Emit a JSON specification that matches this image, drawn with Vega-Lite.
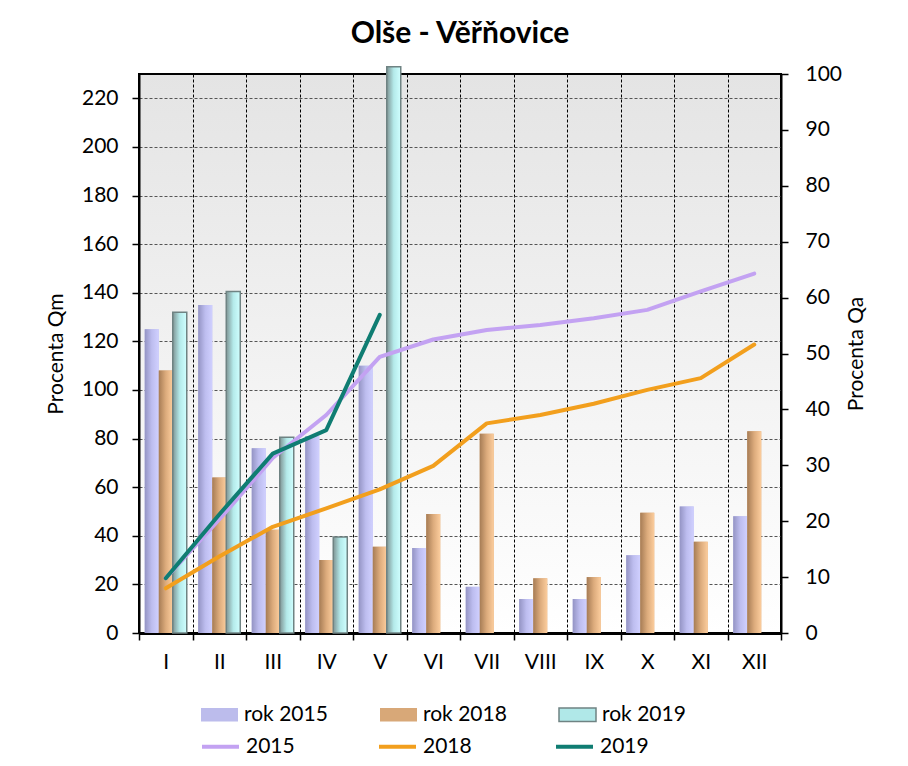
{
  "$schema": "https://vega.github.io/schema/vega-lite/v6.json",
  "width": 642,
  "height": 559,
  "autosize": "none",
  "padding": {"left": 139, "top": 74, "right": 127, "bottom": 133},
  "background": "white",
  "title": {"text": "Olše - Věřňovice", "font": "Lato", "fontSize": 30, "fontWeight": "bold", "color": "black", "anchor": "middle", "frame": "group", "offset": 14},
  "config": {
    "font": "Lato",
    "view": {"stroke": "black", "strokeWidth": 2, "fill": {"gradient": "linear", "x1": 0, "y1": 0, "x2": 0, "y2": 1, "stops": [{"offset": 0, "color": "#e4e4e4"}, {"offset": 1, "color": "#ffffff"}]}},
    "axis": {"labelFont": "Lato", "labelFontSize": 21, "labelColor": "black", "titleFont": "Lato", "titleFontSize": 21, "titleFontWeight": "normal", "titleColor": "black", "domainColor": "black", "tickColor": "black"},
    "legend": {"labelFont": "Lato", "labelFontSize": 21, "labelColor": "black"}
  },
  "datasets": {
    "bars": [
      {"series": "rok 2015", "month": "I", "value": 125},
      {"series": "rok 2015", "month": "II", "value": 135},
      {"series": "rok 2015", "month": "III", "value": 76},
      {"series": "rok 2015", "month": "IV", "value": 81},
      {"series": "rok 2015", "month": "V", "value": 110},
      {"series": "rok 2015", "month": "VI", "value": 35},
      {"series": "rok 2015", "month": "VII", "value": 19},
      {"series": "rok 2015", "month": "VIII", "value": 14},
      {"series": "rok 2015", "month": "IX", "value": 14},
      {"series": "rok 2015", "month": "X", "value": 32},
      {"series": "rok 2015", "month": "XI", "value": 52},
      {"series": "rok 2015", "month": "XII", "value": 48},
      {"series": "rok 2018", "month": "I", "value": 108},
      {"series": "rok 2018", "month": "II", "value": 64},
      {"series": "rok 2018", "month": "III", "value": 42.5},
      {"series": "rok 2018", "month": "IV", "value": 30},
      {"series": "rok 2018", "month": "V", "value": 35.5},
      {"series": "rok 2018", "month": "VI", "value": 49},
      {"series": "rok 2018", "month": "VII", "value": 82},
      {"series": "rok 2018", "month": "VIII", "value": 22.5},
      {"series": "rok 2018", "month": "IX", "value": 23},
      {"series": "rok 2018", "month": "X", "value": 49.5},
      {"series": "rok 2018", "month": "XI", "value": 37.5},
      {"series": "rok 2018", "month": "XII", "value": 83},
      {"series": "rok 2019", "month": "I", "value": 132},
      {"series": "rok 2019", "month": "II", "value": 140.5},
      {"series": "rok 2019", "month": "III", "value": 80.5},
      {"series": "rok 2019", "month": "IV", "value": 39.5},
      {"series": "rok 2019", "month": "V", "value": 233}
    ],
    "lines": [
      {"series": "2015", "month": "I", "value": 9.8},
      {"series": "2015", "month": "II", "value": 20.3},
      {"series": "2015", "month": "III", "value": 31.3},
      {"series": "2015", "month": "IV", "value": 39.0},
      {"series": "2015", "month": "V", "value": 49.4},
      {"series": "2015", "month": "VI", "value": 52.5},
      {"series": "2015", "month": "VII", "value": 54.2},
      {"series": "2015", "month": "VIII", "value": 55.1},
      {"series": "2015", "month": "IX", "value": 56.3},
      {"series": "2015", "month": "X", "value": 57.8},
      {"series": "2015", "month": "XI", "value": 61.1},
      {"series": "2015", "month": "XII", "value": 64.3},
      {"series": "2018", "month": "I", "value": 8.0},
      {"series": "2018", "month": "II", "value": 13.7},
      {"series": "2018", "month": "III", "value": 19.0},
      {"series": "2018", "month": "IV", "value": 22.3},
      {"series": "2018", "month": "V", "value": 25.7},
      {"series": "2018", "month": "VI", "value": 29.9},
      {"series": "2018", "month": "VII", "value": 37.5},
      {"series": "2018", "month": "VIII", "value": 39.0},
      {"series": "2018", "month": "IX", "value": 41.0},
      {"series": "2018", "month": "X", "value": 43.5},
      {"series": "2018", "month": "XI", "value": 45.6},
      {"series": "2018", "month": "XII", "value": 51.6},
      {"series": "2019", "month": "I", "value": 9.8},
      {"series": "2019", "month": "II", "value": 21.2},
      {"series": "2019", "month": "III", "value": 32.1},
      {"series": "2019", "month": "IV", "value": 36.3},
      {"series": "2019", "month": "V", "value": 56.9}
    ]
  },
  "layer": [
    {
      "data": {"name": "bars"},
      "encoding": {
        "x": {"field": "month", "type": "nominal", "sort": ["I","II","III","IV","V","VI","VII","VIII","IX","X","XI","XII"], "scale": {"domain": ["I","II","III","IV","V","VI","VII","VIII","IX","X","XI","XII"], "paddingInner": 0, "paddingOuter": 0}, "axis": {"title": null, "tickBand": "extent", "grid": true, "gridDash": [3, 2], "gridColor": "black", "gridWidth": 1, "labelAngle": 0, "tickSize": 7, "tickWidth": 1.5, "labelPadding": 11, "domainWidth": 3}},
        "xOffset": {"field": "series", "type": "nominal", "scale": {"domain": ["rok 2015", "rok 2018", "rok 2019"], "paddingOuter": 0.41, "paddingInner": 0}},
        "y": {"field": "value", "type": "quantitative", "scale": {"domain": [0, 230], "nice": false}, "axis": {"title": "Procenta Qm", "orient": "left", "values": [0,20,40,60,80,100,120,140,160,180,200,220], "grid": true, "gridDash": [3, 2], "gridColor": "#555", "tickSize": 7, "tickWidth": 1.5, "labelPadding": 14, "domainWidth": 2, "titlePadding": 15}}
      },
      "layer": [
        {
          "mark": {"type": "bar"},
          "encoding": {
            "fill": {"field": "series", "type": "nominal", "scale": {"domain": ["rok 2015", "rok 2018", "rok 2019"], "range": ["#bcbcec", "#d8a878", "#b0e8e8"]},
              "legend": {"title": null, "orient": "none", "legendX": 61, "legendY": 621, "direction": "horizontal", "columns": 3, "columnPadding": 49, "symbolType": "M-1,-0.36H1V0.36H-1Z", "symbolSize": 1369, "labelOffset": 5, "labelFontSize": 21,
                "encode": {"symbols": {"update": {
                  "fill": [
                    {"test": "datum.value === 'rok 2015'", "value": {"gradient": "linear", "x1": 0, "y1": 0, "x2": 1, "y2": 0, "stops": [{"offset": 0, "color": "#9494c4"}, {"offset": 1, "color": "#d0d0ff"}]}},
                    {"test": "datum.value === 'rok 2018'", "value": {"gradient": "linear", "x1": 0, "y1": 0, "x2": 1, "y2": 0, "stops": [{"offset": 0, "color": "#a67c55"}, {"offset": 1, "color": "#fccd9d"}]}},
                    {"value": {"gradient": "linear", "x1": 0, "y1": 0, "x2": 1, "y2": 0, "stops": [{"offset": 0, "color": "#7f9494"}, {"offset": 1, "color": "#d0ffff"}]}}
                  ],
                  "stroke": {"signal": "datum.value === 'rok 2019' ? '#6f8383' : 'transparent'"},
                  "strokeWidth": {"value": 1.5}
                }}}
              }
            }
          }
        },
        {
          "transform": [{"filter": "datum.series === 'rok 2015'"}],
          "mark": {"type": "bar", "fill": {"gradient": "linear", "x1": 0, "y1": 0, "x2": 1, "y2": 0, "stops": [{"offset": 0, "color": "#9494c4"}, {"offset": 0.5, "color": "#bdbdef"}, {"offset": 1, "color": "#d0d0ff"}]}}
        },
        {
          "transform": [{"filter": "datum.series === 'rok 2018'"}],
          "mark": {"type": "bar", "fill": {"gradient": "linear", "x1": 0, "y1": 0, "x2": 1, "y2": 0, "stops": [{"offset": 0, "color": "#a67c55"}, {"offset": 0.5, "color": "#dcab7c"}, {"offset": 1, "color": "#fccd9d"}]}}
        },
        {
          "transform": [{"filter": "datum.series === 'rok 2019'"}],
          "mark": {"type": "bar", "stroke": "#6f8383", "strokeWidth": 1.5, "fill": {"gradient": "linear", "x1": 0, "y1": 0, "x2": 1, "y2": 0, "stops": [{"offset": 0, "color": "#7f9494"}, {"offset": 0.5, "color": "#b4eaea"}, {"offset": 1, "color": "#d0ffff"}]}}
        }
      ]
    },
    {
      "data": {"name": "lines"},
      "mark": {"type": "line", "strokeWidth": 4, "strokeCap": "round", "strokeJoin": "round"},
      "encoding": {
        "x": {"field": "month", "type": "nominal", "sort": ["I","II","III","IV","V","VI","VII","VIII","IX","X","XI","XII"], "scale": {"domain": ["I","II","III","IV","V","VI","VII","VIII","IX","X","XI","XII"], "paddingInner": 0, "paddingOuter": 0}, "axis": {"title": null, "tickBand": "extent", "grid": true, "gridDash": [3, 2], "gridColor": "black", "gridWidth": 1, "labelAngle": 0, "tickSize": 7, "tickWidth": 1.5, "labelPadding": 11, "domainWidth": 3}},
        "y": {"field": "value", "type": "quantitative", "scale": {"domain": [0, 100], "nice": false}, "axis": {"title": "Procenta Qa", "orient": "right", "values": [0,10,20,30,40,50,60,70,80,90,100], "grid": false, "tickSize": 7, "tickWidth": 1.5, "labelPadding": 17, "domainWidth": 2, "titlePadding": 25, "titleAngle": 270}},
        "stroke": {"field": "series", "type": "nominal", "scale": {"domain": ["2015", "2018", "2019"], "range": ["#c3a2f2", "#f29f1d", "#0f7d72"]},
          "legend": {"title": null, "orient": "none", "legendX": 61, "legendY": 652, "direction": "horizontal", "columns": 3, "columnPadding": 76, "symbolType": "stroke", "symbolSize": 1369, "symbolStrokeWidth": 4, "labelOffset": 5, "labelFontSize": 21}
        }
      }
    }
  ],
  "resolve": {"scale": {"y": "independent", "fill": "independent", "stroke": "independent"}}
}
